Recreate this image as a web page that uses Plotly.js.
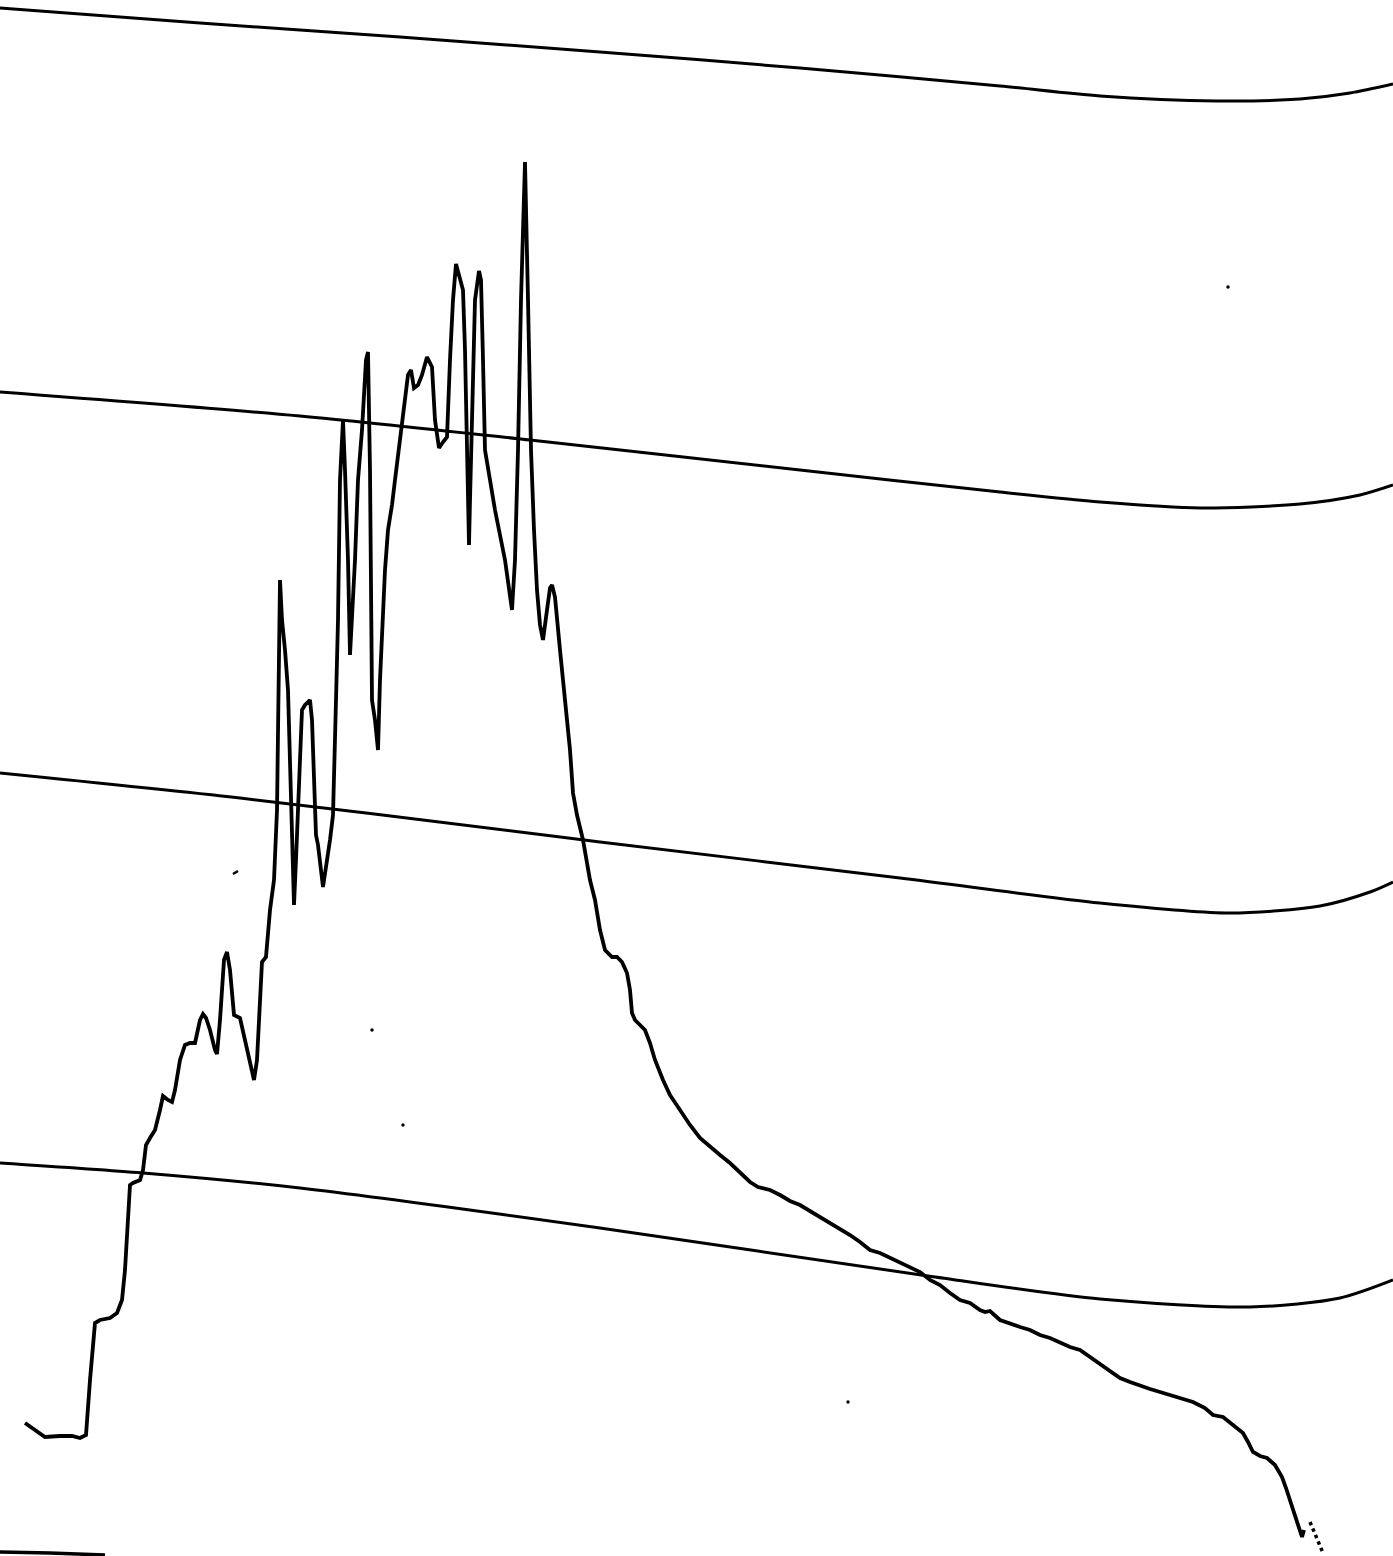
<!DOCTYPE html>
<html>
<head>
<meta charset="utf-8">
<script src="https://cdn.plot.ly/plotly-3.0.1.min.js"></script>
<style>html,body{margin:0;padding:0;background:#fff;}#chart{width:1393px;height:1556px;}</style>
</head>
<body>
<div id="chart"></div>
<script>
// Main recorder trace (x position, y reading measured downward)
const traceX = [25,35,45,60,72,80,86,90,95,100,110,117,122,125,130,133,140,143,146,150,155,160,163,168,172,175,180,185,190,195,200,203,206,210,215,217,220,224,227,230,234,240,245,250,254,257,262,266,270,274,277,280,282,284,285,288,290,293,294,296,300,302,305,310,312,315,316,318,323,330,333,336,338,340,343,345,348,350,352,355,358,362,366,368,370,372,375,378,380,385,388,392,395,400,405,408,411,414,418,422,427,432,435,439,443,447,450,453,456,460,463,465,468,469,470,475,479,481,483,485,490,495,505,510,512,515,518,521,525,528,531,534,537,540,543,547,550,552,555,560,565,570,573,577,583,590,595,600,605,612,617,622,627,630,632,635,640,645,650,655,663,670,680,690,700,710,720,730,740,750,758,770,780,790,800,810,820,830,840,850,860,870,880,890,900,910,920,930,940,950,960,970,980,985,990,1000,1010,1020,1030,1040,1050,1060,1070,1080,1090,1100,1110,1120,1130,1140,1150,1160,1170,1180,1193,1205,1213,1223,1233,1243,1248,1253,1260,1267,1275,1282,1286,1290,1294,1298,1302,1304];
const traceY = [1423,1430,1437,1436,1436,1438,1435,1380,1323,1320,1318,1313,1300,1270,1185,1183,1180,1170,1145,1138,1130,1110,1096,1100,1102,1090,1060,1045,1043,1043,1020,1014,1018,1030,1050,1054,1020,960,952,970,1015,1018,1040,1065,1080,1060,962,957,910,880,810,580,620,640,650,690,760,850,905,860,760,710,705,700,720,795,835,845,887,840,815,700,620,480,420,470,560,655,620,560,480,430,360,352,470,700,720,750,680,570,530,505,480,440,400,375,370,388,385,375,357,367,420,448,442,437,360,300,264,280,290,350,520,545,500,300,271,280,360,450,480,510,560,600,610,560,450,300,162,300,450,530,590,625,640,610,588,585,597,650,700,750,793,815,840,880,900,930,950,957,957,962,973,990,1013,1020,1025,1030,1043,1060,1080,1095,1110,1125,1138,1147,1155,1163,1172,1182,1187,1190,1195,1201,1205,1211,1216,1222,1228,1235,1242,1250,1253,1258,1263,1268,1272,1280,1285,1293,1300,1303,1310,1312,1311,1320,1324,1327,1330,1335,1338,1343,1347,1350,1357,1363,1370,1378,1382,1386,1389,1392,1395,1398,1402,1408,1415,1417,1425,1433,1442,1452,1456,1458,1465,1477,1488,1500,1512,1523,1537,1530];

// Broken tail fragment
const tailX = [1310,1316,1323];
const tailY = [1522,1537,1553];

// Bottom-left edge fragment
const edgeX = [0,50,105];
const edgeY = [1552,1553,1555];

// Chart paper grid curves
const gridX1 = [0,200,400,600,800,1000,1100,1217,1300,1350,1393];
const gridY1 = [8,23,37,52,68,86,96,101,99,93,84];
const gridX2 = [0,300,530,800,1000,1100,1200,1300,1360,1393];
const gridY2 = [392,416,440,470,492,502,508,504,495,485];
const gridX3 = [0,240,520,600,900,1100,1230,1320,1370,1393];
const gridY3 = [773,798,832,842,878,903,913,906,892,882];
const gridX4 = [0,143,300,600,928,1100,1250,1340,1393];
const gridY4 = [1163,1173,1188,1228,1276,1299,1307,1298,1280];

// Stray specks on the paper
const speckX = [1228,372,403,848];
const speckY = [287,1030,1125,1402];
const dashX = [233,238];
const dashY = [874,871];

const black = '#000';
const data = [
  {x: gridX1, y: gridY1, mode:'lines', line:{color:black, width:3, shape:'spline', smoothing:0.8}},
  {x: gridX2, y: gridY2, mode:'lines', line:{color:black, width:3, shape:'spline', smoothing:0.8}},
  {x: gridX3, y: gridY3, mode:'lines', line:{color:black, width:3, shape:'spline', smoothing:0.8}},
  {x: gridX4, y: gridY4, mode:'lines', line:{color:black, width:3, shape:'spline', smoothing:0.8}},
  {x: traceX, y: traceY, mode:'lines', line:{color:black, width:3.8, shape:'linear'}},
  {x: tailX, y: tailY, mode:'lines', line:{color:black, width:3.5, dash:'dot'}},
  {x: edgeX, y: edgeY, mode:'lines', line:{color:black, width:3.5}},
  {x: dashX, y: dashY, mode:'lines', line:{color:black, width:2.5}},
  {x: speckX, y: speckY, mode:'markers', marker:{color:black, size:3.5}}
];

const layout = {
  width: 1393, height: 1556,
  margin: {l:0, r:0, t:0, b:0, pad:0},
  paper_bgcolor:'#fff', plot_bgcolor:'#fff',
  showlegend:false,
  xaxis:{range:[0,1393], visible:false, fixedrange:true},
  yaxis:{range:[1556,0], visible:false, fixedrange:true}
};

Plotly.newPlot('chart', data, layout, {staticPlot:true, displayModeBar:false});
</script>
</body>
</html>
